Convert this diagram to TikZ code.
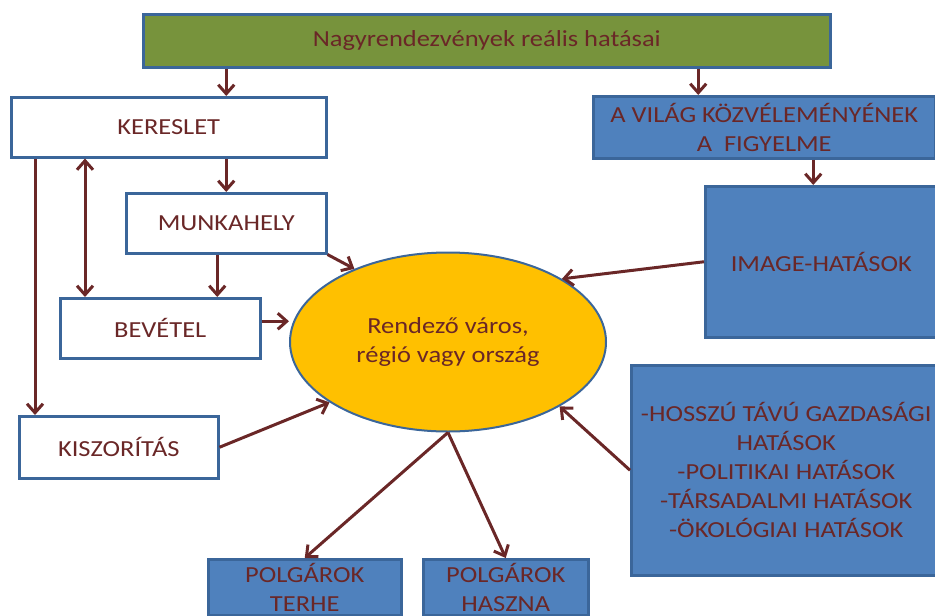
\documentclass[tikz,border=0pt]{standalone}
\usepackage{fontspec}
\setmainfont{Carlito}[FakeStretch=1.15]
\usepackage{tikz}
\usetikzlibrary{positioning,arrows.meta,shapes.geometric}
\definecolor{boxline}{HTML}{3B669A}
\definecolor{skyblue}{HTML}{4F81BD}
\definecolor{olive}{HTML}{77933C}
\definecolor{amber}{HTML}{FFC000}
\definecolor{maroon}{HTML}{6A2727}
\newcommand{\boxfont}{\fontsize{23}{29}\selectfont}
\tikzset{
  blk/.style={rectangle, draw=boxline, fill=#1, line width=2.5pt,
              align=center, font=\boxfont, text=maroon, inner sep=0pt,
              anchor=north west},
  hub/.style={ellipse, draw=boxline, fill=amber, line width=2pt,
              align=center, font=\boxfont, text=maroon, inner sep=0pt},
  ar/.style={-{Straight Barb[length=9pt,width=16pt]}, line width=3pt, draw=maroon},
  arr/.style={{Straight Barb[length=9pt,width=16pt]}-{Straight Barb[length=9pt,width=16pt]},
              line width=3pt, draw=maroon},
}

\begin{document}
\begin{tikzpicture}[x=1pt, y=-1pt]
  \useasboundingbox (0,0) rectangle (935,616);
  \clip (0,0) rectangle (935,616);

  % boxes
  \node[blk=olive, minimum width=687pt, minimum height=53pt] (top) at (142,13)
       {Nagyrendezvények reális hatásai};
  \node[blk=white, minimum width=315pt, minimum height=60pt] (ker) at (10,96) {KERESLET};
  \node[blk=skyblue, minimum width=342pt, minimum height=62pt] (vil) at (592,95)
       {A VILÁG KÖZVÉLEMÉNYÉNEK\\A\ \ FIGYELME};
  \node[blk=white, minimum width=200pt, minimum height=60pt] (mun) at (125,192) {MUNKAHELY};
  \node[blk=skyblue, minimum width=232pt, minimum height=151pt] (img) at (704,185)
       {IMAGE-HATÁSOK};
  \node[blk=white, minimum width=200pt, minimum height=60pt] (bev) at (59,297) {BEVÉTEL};
  \node[blk=white, minimum width=199pt, minimum height=62pt] (kis) at (18,415) {KISZORÍTÁS};
  \node[blk=skyblue, minimum width=310pt, minimum height=210pt] (hat) at (630,364)
       {-HOSSZÚ TÁVÚ GAZDASÁGI\\HATÁSOK\\-POLITIKAI HATÁSOK\\-TÁRSADALMI HATÁSOK\\-ÖKOLÓGIAI HATÁSOK};
  \node[blk=skyblue, minimum width=193pt, minimum height=56pt] (ter) at (207,558)
       {POLGÁROK\\TERHE};
  \node[blk=skyblue, minimum width=165pt, minimum height=56pt] (hasz) at (422,558)
       {POLGÁROK\\HASZNA};
  \node[hub, minimum width=316pt, minimum height=179pt] (ell) at (448,342)
       {Rendező város,\\régió vagy ország};

  % where the vertical connectors drop in
  \coordinate (vilin) at ([xshift=-66pt]vil.north);
  \coordinate (imgin) at ([xshift=-8pt]img.north);
  \coordinate (munout) at ([xshift=-9pt]mun.south);
  \coordinate (bevin) at ([xshift=26pt]bev.north west);
  \coordinate (kisin) at ([xshift=17pt]kis.north west);
  \coordinate (bevout) at ([yshift=7pt]bev.east);

  % top level
  \draw[ar] (top.south -| mun.north) -- (ker.north -| mun.north);
  \draw[ar] (top.south -| vilin) -- (vilin);
  \draw[ar] (vil.south -| imgin) -- (imgin);

  % left column
  \draw[ar] (ker.south -| mun.north) -- (mun.north);
  \draw[ar] (munout) -- (bev.north -| munout);
  \draw[arr] (ker.south -| bevin) -- (bevin);
  \draw[ar] (ker.south -| kisin) -- (kisin);

  % into the host
  \draw[ar] (mun.south east) -- (ell.142);
  \draw[ar] (bevout) -- (ell.west |- bevout);
  \draw[ar] (kis.east) -- (ell.207);
  \draw[ar] (img.west) -- (ell.29);
  \draw[ar] (hat.west) -- (ell.330);

  % out of the host
  \draw[ar] (ell.south) -- (ter.north);
  \draw[ar] (ell.south) -- (hasz.north);
\end{tikzpicture}
\end{document}
